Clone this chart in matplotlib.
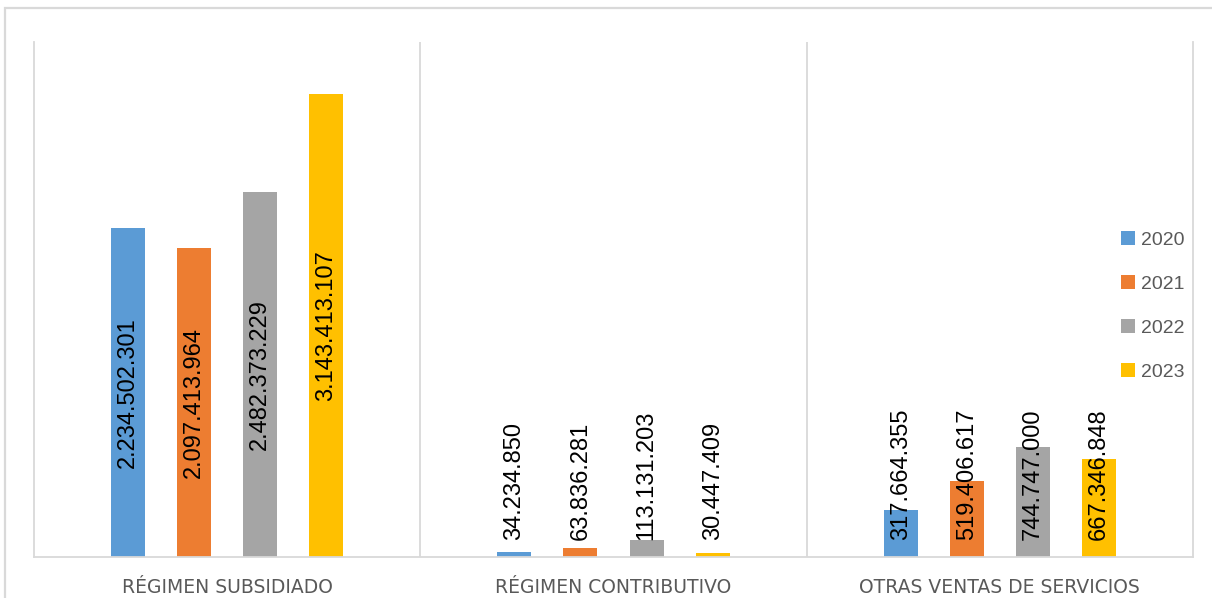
import matplotlib
matplotlib.use("Agg")
import matplotlib.pyplot as plt
from matplotlib.patches import Rectangle
import numpy as np

categories = ["RÉGIMEN SUBSIDIADO", "RÉGIMEN CONTRIBUTIVO", "OTRAS VENTAS DE SERVICIOS"]
years = ["2020", "2021", "2022", "2023"]
v2020 = [2234502301, 34234850, 317664355]
v2021 = [2097413964, 63836281, 519406617]
v2022 = [2482373229, 113131203, 744747000]
v2023 = [3143413107, 30447409, 667346848]
series = [v2020, v2021, v2022, v2023]
colors = ["#5B9BD5", "#ED7D31", "#A5A5A5", "#FFC000"]

plt.rcParams['font.family'] = ['Liberation Sans', 'DejaVu Sans']

W, H = 1212, 598
fig = plt.figure(figsize=(W / 100, H / 100), dpi=100)
ax = fig.add_axes([34 / W, 1 - 557 / H, (1193 - 34) / W, (557 - 42) / H])

# outer chart border
fig.patches.append(Rectangle((5 / W, -0.1), 1.2, (H - 8) / H + 0.1,
                             transform=fig.transFigure, fill=False,
                             ec="#D9D9D9", lw=1.6, zorder=0))

x = np.arange(len(categories))
step = 0.171
width = 0.088
ymax = 3.5e9

texts = []
for i, (vals, col, yr) in enumerate(zip(series, colors, years)):
    pos = x + (i - 1.5) * step
    ax.bar(pos, vals, width=width, color=col, label=yr, zorder=2)
    for px, v in zip(pos, vals):
        t = ax.text(px, v / 2, f"{v:,}".replace(",", "."), rotation=90,
                    ha="center", va="center", fontsize=17, color="black",
                    zorder=3)
        texts.append((t, v))

ax.set_xlim(-0.5, len(categories) - 0.5)
ax.set_ylim(0, ymax)
ax.set_yticks([])
ax.set_xticks(x)
ax.set_xticklabels(categories, fontsize=13.5, color="#595959",
                   family=["DejaVu Sans"])
ax.tick_params(axis="x", length=0, pad=15)

for s in ["left", "right", "bottom"]:
    ax.spines[s].set_color("#D9D9D9")
    ax.spines[s].set_linewidth(1.3)
ax.spines["top"].set_visible(False)
for b in [0.5, 1.5]:
    ax.axvline(b, color="#D9D9D9", lw=1.3, zorder=1)

# position labels: centered in bar, but not lower than a minimum offset
fig.canvas.draw()
r = fig.canvas.get_renderer()
ppu = ax.bbox.height / ymax
min_off = 17 / ppu
for t, v in texts:
    h = t.get_window_extent(r).height
    half = (h / 2) / ppu
    yc = max(v / 2, min_off + half)
    t.set_y(yc)

leg = fig.legend(loc="center left", bbox_to_anchor=(1121 / W, 1 - 306 / H),
                 frameon=False, fontsize=14, labelcolor="#595959",
                 handlelength=0.7, handleheight=0.7, handletextpad=0.35,
                 labelspacing=1.35, borderpad=0, borderaxespad=0)

fig.savefig("out.png", dpi=100)
